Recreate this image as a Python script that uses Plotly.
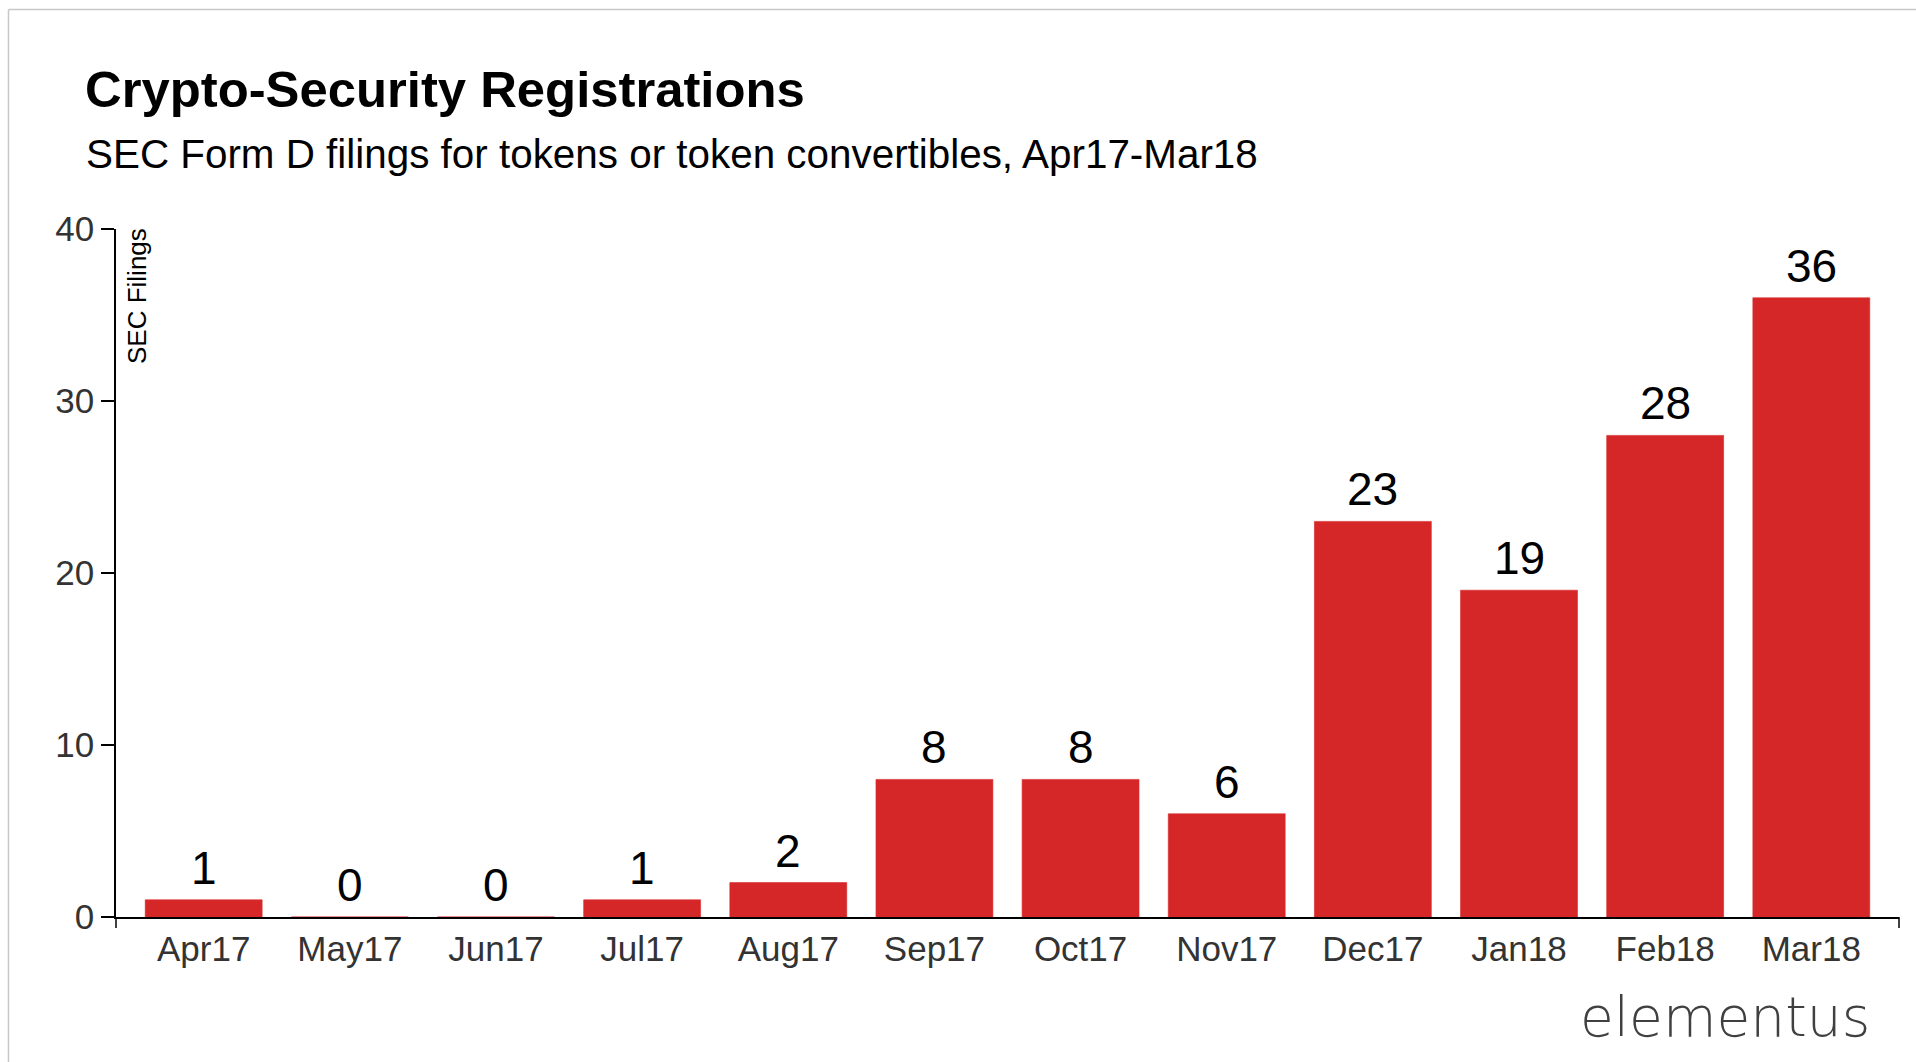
import plotly.graph_objects as go

# ---- data ----
months = ["Apr17", "May17", "Jun17", "Jul17", "Aug17", "Sep17",
          "Oct17", "Nov17", "Dec17", "Jan18", "Feb18", "Mar18"]
filings = [1, 0, 0, 1, 2, 8, 8, 6, 23, 19, 28, 36]
y_ticks = [0, 10, 20, 30, 40]

title_text = "Crypto-Security Registrations"
subtitle_text = "SEC Form D filings for tokens or token convertibles, Apr17-Mar18"
y_title = "SEC Filings"
logo_text = "elementus"

# ---- layout geometry (pixels) ----
W, H = 1916, 1062
ML, MR, MT, MB = 116, 17, 229, 145
PW = W - ML - MR
PH = H - MT - MB


def px_x(px):
    return (px - ML) / PW


def px_y(py):
    return (H - MB - py) / PH


FONT = "Liberation Sans, Arial, Helvetica, sans-serif"
RED = "#d62728"

fig = go.Figure()
fig.add_trace(go.Bar(
    x=list(range(len(months))),
    y=filings,
    width=0.8,
    marker=dict(color=RED, line=dict(color=RED, width=0.6)),
    hoverinfo="skip",
))

annotations = []
for i, v in enumerate(filings):
    annotations.append(dict(
        x=i, y=v, xref="x", yref="y", text=str(v), showarrow=False,
        yanchor="bottom", xanchor="center", yshift=4,
        font=dict(family=FONT, size=46, color="#000000"),
    ))

annotations += [
    dict(x=px_x(83), y=px_y(89), xref="paper", yref="paper", text=title_text,
         showarrow=False, xanchor="left", yanchor="middle",
         font=dict(family=FONT, size=50.8, color="#000000", weight="bold")),
    dict(x=px_x(84), y=px_y(154), xref="paper", yref="paper", text=subtitle_text,
         showarrow=False, xanchor="left", yanchor="middle",
         font=dict(family=FONT, size=40.4, color="#000000")),
    dict(x=px_x(137), y=px_y(296), xref="paper", yref="paper", text=y_title,
         showarrow=False, xanchor="center", yanchor="middle", textangle=-90,
         font=dict(family=FONT, size=26, color="#000000")),
    dict(x=px_x(1872), y=px_y(1017), xref="paper", yref="paper", text=logo_text,
         showarrow=False, xanchor="right", yanchor="middle",
         font=dict(family="DejaVu Sans ExtraLight, DejaVu Sans, sans-serif",
                   size=55, color="#404040", weight=200)),
]

shapes = [
    # light frame around the card
    dict(type="line", xref="paper", yref="paper",
         x0=px_x(8.5), x1=px_x(W + 5), y0=px_y(9.5), y1=px_y(9.5),
         line=dict(color="#c8c8c8", width=1.5)),
    dict(type="line", xref="paper", yref="paper",
         x0=px_x(8.5), x1=px_x(8.5), y0=px_y(9.5), y1=px_y(H + 5),
         line=dict(color="#c8c8c8", width=1.5)),
    # outer ticks at both ends of the x axis
    dict(type="line", xref="paper", yref="paper",
         x0=0, x1=0, y0=0, y1=px_y(H - MB + 11),
         line=dict(color="#000000", width=1.5)),
    dict(type="line", xref="paper", yref="paper",
         x0=1, x1=1, y0=0, y1=px_y(H - MB + 11),
         line=dict(color="#000000", width=1.5)),
]

fig.update_layout(
    width=W, height=H,
    margin=dict(l=ML, r=MR, t=MT, b=MB, pad=0),
    paper_bgcolor="white", plot_bgcolor="white",
    showlegend=False,
    annotations=annotations,
    shapes=shapes,
    bargap=0.2,
    xaxis=dict(
        tickmode="array", tickvals=list(range(len(months))), ticktext=months,
        range=[-0.6, len(months) - 0.4],
        showline=True, linecolor="#000000", linewidth=1.5,
        ticks="", showgrid=False, zeroline=False,
        tickfont=dict(family=FONT, size=35, color="#333333"),
        ticklabelstandoff=0,
        fixedrange=True,
    ),
    yaxis=dict(
        range=[0, 40], tickmode="array", tickvals=y_ticks,
        showline=True, linecolor="#000000", linewidth=1.5,
        ticks="outside", ticklen=13, tickwidth=1.5, tickcolor="#000000",
        showgrid=False, zeroline=False,
        tickfont=dict(family=FONT, size=35, color="#333333"),
        fixedrange=True,
    ),
)

fig.write_html("out.html", config={"displayModeBar": False})
